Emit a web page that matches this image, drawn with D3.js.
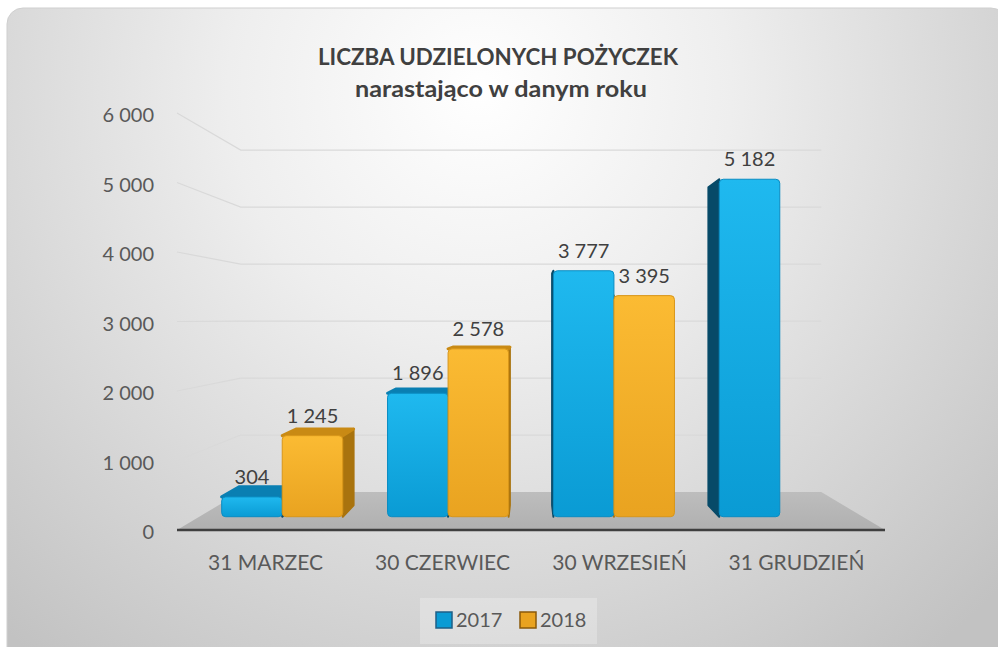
<!DOCTYPE html>
<html>
<head>
<meta charset="utf-8">
<script src="https://cdn.jsdelivr.net/npm/d3@7"></script>
<style>
  body { margin: 0; background: #fff; }
  svg text { font-family: Lato, "Open Sans", sans-serif; }
</style>
</head>
<body>
<svg id="chart" width="998" height="647"></svg>
<script>
// data
const categories = ["31 MARZEC", "30 CZERWIEC", "30 WRZESIEŃ", "31 GRUDZIEŃ"];
const series = ["2017", "2018"];
const values2017 = [304, 1896, 3777, 5182];
const values2018 = [1245, 2578, 3395, null];
const yTicks = [0, 1000, 2000, 3000, 4000, 5000, 6000];

const svg = d3.select("#chart");
const defs = svg.append("defs");

// background panel
let bg = defs.append("radialGradient").attr("id", "bgGrad")
    .attr("gradientUnits", "userSpaceOnUse")
    .attr("cx", 480).attr("cy", 90).attr("r", 720);
bg.append("stop").attr("offset", "0").attr("stop-color", "#ffffff");
bg.append("stop").attr("offset", "0.35").attr("stop-color", "#eeeeee");
bg.append("stop").attr("offset", "1").attr("stop-color", "#c2c2c2");

svg.append("rect")
    .attr("x", 7).attr("y", 8).attr("width", 1000).attr("height", 660)
    .attr("rx", 16)
    .attr("fill", "url(#bgGrad)")
    .attr("stroke", "#cfcfcf");

// perspective: front plane coords -> screen
const cx = 531, cy = 319, shrink = 0.18;
function project(X, Y, z) {
    let s = 1 - shrink * z;
    return [cx + s * (X - cx), cy + s * (Y - cy)];
}
const zFront = 0.35, zBack = 0.65;

let xScale = d3.scaleBand().domain(categories).range([177, 885]);
let xInner = d3.scaleBand().domain(series).range([0, xScale.bandwidth()]).paddingOuter(0.37);
let yScale = d3.scaleLinear().domain([0, 6000]).range([530, 113]);

let line = d3.line();
let polygon = pts => line(pts) + "Z";

// gridlines on side and back wall
svg.append("g").selectAll("path").data(yTicks.filter(d => d > 0)).enter()
    .append("path")
    .attr("d", d => line([project(177, yScale(d), 0), project(177, yScale(d), 1), project(885, yScale(d), 1)]))
    .attr("fill", "none")
    .attr("stroke", "#d9d9d9")
    .attr("stroke-width", 1.2);

// floor
let floorGrad = defs.append("linearGradient").attr("id", "floorGrad")
    .attr("x1", 0).attr("y1", 0).attr("x2", 0).attr("y2", 1);
floorGrad.append("stop").attr("offset", "0").attr("stop-color", "#bdbdbd");
floorGrad.append("stop").attr("offset", "1").attr("stop-color", "#b0b0b0");
svg.append("path")
    .attr("d", polygon([project(177, yScale(0), 0), project(885, yScale(0), 0),
        project(885, yScale(0), 1), project(177, yScale(0), 1)]))
    .attr("fill", "url(#floorGrad)");
svg.append("line")
    .attr("x1", 177).attr("x2", 885)
    .attr("y1", yScale(0)).attr("y2", yScale(0))
    .attr("stroke", "#3f3f3f").attr("stroke-width", 2.5);

// bar colours
const colors = {
    "2017": { front: ["#1fb9ef", "#0a9bd4"], top: "#0a7fb2", side: "#074a68", edge: "#0a8cc2" },
    "2018": { front: ["#fbbb33", "#e9a320"], top: "#c98a14", side: "#a9730e", edge: "#d8961a" }
};
series.forEach(function (k) {
    let g = defs.append("linearGradient").attr("id", "front" + k)
        .attr("x1", 0).attr("y1", 0).attr("x2", 0).attr("y2", 1);
    g.append("stop").attr("offset", "0").attr("stop-color", colors[k].front[0]);
    g.append("stop").attr("offset", "1").attr("stop-color", colors[k].front[1]);
});

let bars = [];
categories.forEach(function (c, i) {
    [values2017[i], values2018[i]].forEach(function (v, j) {
        if (v == null) return;
        let k = series[j];
        let X0 = xScale(c) + xInner(k), X1 = X0 + xInner.bandwidth();
        bars.push({ cat: c, key: k, value: v, X0: X0, X1: X1, Yt: yScale(v), Yb: yScale(0) });
    });
});

let gBars = svg.append("g");
// sides first
bars.forEach(function (b) {
    let X = null;
    if (b.X1 < cx) X = b.X1;
    else if (b.X0 > cx) X = b.X0;
    if (X == null) return;
    gBars.append("path")
        .attr("d", polygon([project(X, b.Yt, zFront), project(X, b.Yt, zBack),
            project(X, b.Yb, zBack), project(X, b.Yb, zFront)]))
        .attr("fill", colors[b.key].side)
        .attr("stroke", colors[b.key].side)
        .attr("stroke-linejoin", "round").attr("stroke-width", 2);
});
// tops visible below horizon
bars.forEach(function (b) {
    if (project(b.X0, b.Yt, zFront)[1] <= cy) return;
    gBars.append("path")
        .attr("d", polygon([project(b.X0, b.Yt, zFront), project(b.X1, b.Yt, zFront),
            project(b.X1, b.Yt, zBack), project(b.X0, b.Yt, zBack)]))
        .attr("fill", colors[b.key].top)
        .attr("stroke", colors[b.key].top)
        .attr("stroke-linejoin", "round").attr("stroke-width", 3);
});
// fronts
bars.forEach(function (b) {
    let p0 = project(b.X0, b.Yt, zFront), p1 = project(b.X1, b.Yb, zFront);
    gBars.append("rect")
        .attr("x", p0[0]).attr("y", p0[1])
        .attr("width", p1[0] - p0[0]).attr("height", p1[1] - p0[1])
        .attr("rx", 4)
        .attr("fill", "url(#front" + b.key + ")")
        .attr("stroke", colors[b.key].edge)
        .attr("stroke-width", 1);
});

// value labels
let fmt = v => d3.format(",")(v).replace(/,/g, " ");
svg.append("g").selectAll("text").data(bars).enter()
    .append("text")
    .attr("x", d => project((d.X0 + d.X1) / 2, d.Yt, zFront)[0])
    .attr("y", d => project(d.X0, d.Yt, zFront)[1] - 13)
    .attr("text-anchor", "middle")
    .attr("font-size", 20)
    .attr("fill", "#404040")
    .text(d => fmt(d.value));

// y tick labels
svg.append("g").selectAll("text").data(yTicks).enter()
    .append("text")
    .attr("x", 154)
    .attr("y", d => yScale(d) + 9)
    .attr("text-anchor", "end")
    .attr("font-size", 20)
    .attr("fill", "#595959")
    .text(d => fmt(d));

// category labels
svg.append("g").selectAll("text").data(categories).enter()
    .append("text")
    .attr("x", d => xScale(d) + xScale.bandwidth() / 2)
    .attr("y", 570)
    .attr("text-anchor", "middle")
    .attr("font-size", 21)
    .attr("fill", "#595959")
    .text(d => d);

// title
svg.append("text")
    .attr("x", 498).attr("y", 65)
    .attr("text-anchor", "middle")
    .attr("font-size", 23).attr("font-weight", "bold")
    .attr("fill", "#404040")
    .attr("textLength", 360).attr("lengthAdjust", "spacingAndGlyphs")
    .text("LICZBA UDZIELONYCH POŻYCZEK");
svg.append("text")
    .attr("x", 501).attr("y", 97)
    .attr("text-anchor", "middle")
    .attr("font-size", 23).attr("font-weight", "bold")
    .attr("fill", "#404040")
    .attr("textLength", 292).attr("lengthAdjust", "spacingAndGlyphs")
    .text("narastająco  w danym roku");

// legend
let legend = svg.append("g").attr("transform", "translate(420,598)");
legend.append("rect")
    .attr("width", 177).attr("height", 46)
    .attr("fill", "#ffffff").attr("fill-opacity", 0.25);
let legendX = [16, 100];
series.forEach(function (k, i) {
    legend.append("rect")
        .attr("x", legendX[i]).attr("y", 14)
        .attr("width", 16).attr("height", 16)
        .attr("fill", colors[k].front[1])
        .attr("stroke", i === 0 ? "#1e5f86" : "#8a5a0a")
        .attr("stroke-width", 1.5);
    legend.append("text")
        .attr("x", legendX[i] + 20).attr("y", 29)
        .attr("font-size", 20)
        .attr("fill", "#595959")
        .text(k);
});
</script>
</body>
</html>
